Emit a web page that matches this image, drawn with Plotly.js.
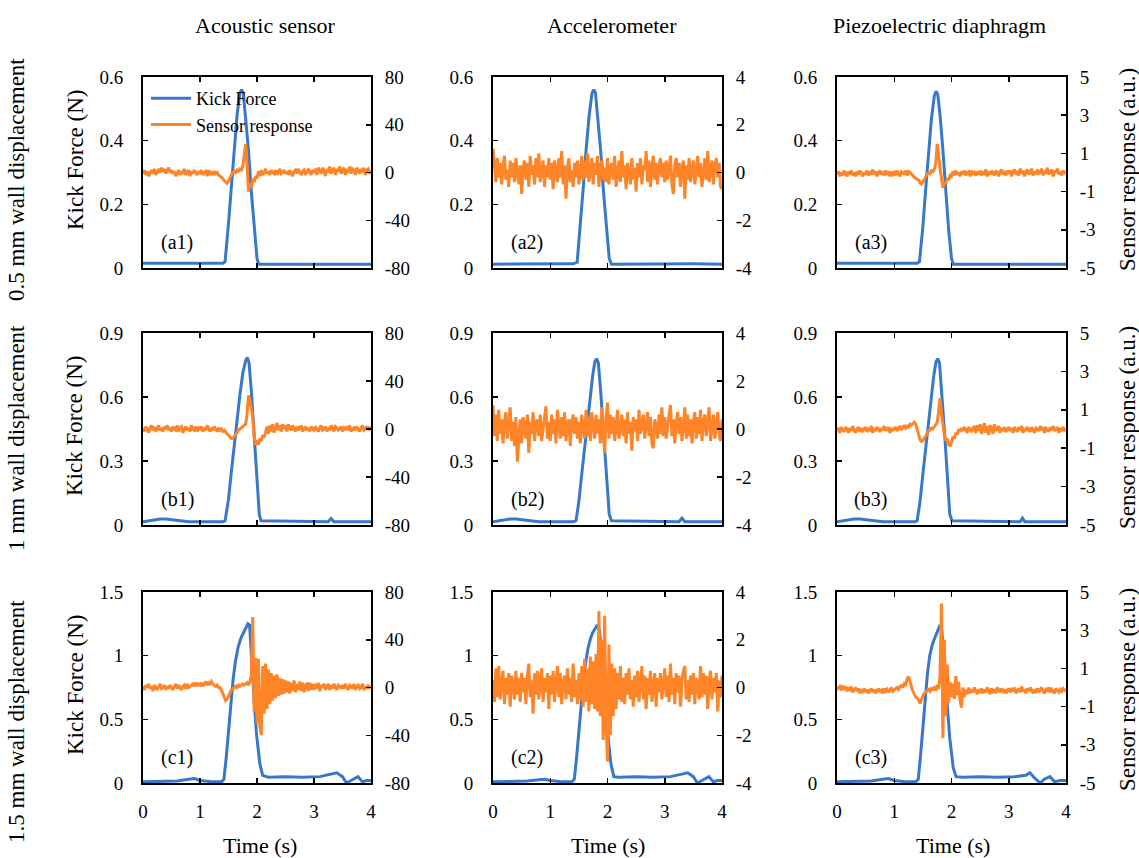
<!DOCTYPE html>
<html><head><meta charset="utf-8">
<script src="https://cdn.plot.ly/plotly-3.0.1.min.js"></script>
<style>html,body{margin:0;padding:0;background:#fff}#chart{width:1139px;height:858px}</style>
</head><body><div id="chart"></div>
<script>
// ---------- text ----------
const columnTitles = ["Acoustic sensor", "Accelerometer", "Piezoelectric diaphragm"];
const rowTitles = ["0.5 mm wall displacement", "1 mm wall displacement", "1.5 mm wall displacement"];
const panelLabels = [["(a1)", "(a2)", "(a3)"], ["(b1)", "(b2)", "(b3)"], ["(c1)", "(c2)", "(c3)"]];
const seriesNames = ["Kick Force", "Sensor response"];
const forceAxisTitle = "Kick Force (N)";
const responseAxisTitle = "Sensor response (a.u.)";
const timeAxisTitle = "Time (s)";

// ---------- ticks ----------
const timeTickVals = [0, 1, 2, 3, 4];
const timeTickText = ["0", "1", "2", "3", "4"];
const forceTickVals = [[0, 0.2, 0.4, 0.6], [0, 0.3, 0.6, 0.9], [0, 0.5, 1, 1.5]];
const forceTickText = [["0", "0.2", "0.4", "0.6"], ["0", "0.3", "0.6", "0.9"], ["0", "0.5", "1", "1.5"]];
const forceMax = [0.6, 0.9, 1.5];
const responseTickVals = [[-80, -40, 0, 40, 80], [-4, -2, 0, 2, 4], [-5, -3, -1, 1, 3, 5]];
const responseTickText = [["-80", "-40", "0", "40", "80"], ["-4", "-2", "0", "2", "4"], ["-5", "-3", "-1", "1", "3", "5"]];
const responseMax = [80, 4, 5];

// ---------- kick force (time s, force N) ----------
const forceTimeA1 = [0,0.5,1,1.4,1.44,1.5,1.55,1.6,1.65,1.7,1.73,1.76,1.8,1.85,1.9,1.95,2,2.03,2.5,3,3.5,4];
const forceA1 = [0.015,0.014,0.015,0.015,0.02,0.14,0.26,0.38,0.48,0.55,0.56,0.55,0.48,0.37,0.24,0.12,0.03,0.012,0.012,0.013,0.012,0.012];
const forceTimeA2 = [0,0.5,1,1.4,1.47,1.53,1.58,1.63,1.68,1.73,1.76,1.79,1.83,1.88,1.93,1.98,2.03,2.07,2.5,3,3.5,4];
const forceA2 = [0.012,0.012,0.013,0.013,0.018,0.14,0.26,0.38,0.48,0.55,0.56,0.55,0.48,0.37,0.24,0.12,0.03,0.012,0.013,0.012,0.013,0.012];
const forceTimeA3 = [0,0.5,1,1.4,1.44,1.5,1.55,1.6,1.65,1.7,1.73,1.76,1.8,1.85,1.9,1.95,2,2.03,2.5,3,3.5,4];
const forceA3 = [0.015,0.015,0.016,0.015,0.02,0.13,0.25,0.37,0.47,0.54,0.555,0.545,0.48,0.37,0.24,0.12,0.03,0.012,0.012,0.013,0.012,0.012];

const forceTimeB1 = [0,0.1,0.2,0.3,0.4,0.5,0.6,0.8,1,1.2,1.4,1.44,1.5,1.55,1.6,1.65,1.7,1.75,1.8,1.83,1.86,1.9,1.95,2,2.04,2.07,2.5,3,3.25,3.3,3.35,3.5,4];
const forceB1 = [0.015,0.02,0.025,0.028,0.028,0.025,0.02,0.015,0.015,0.015,0.015,0.02,0.12,0.25,0.38,0.5,0.61,0.71,0.77,0.785,0.76,0.63,0.43,0.22,0.05,0.02,0.018,0.016,0.015,0.03,0.015,0.015,0.015];
const forceTimeB2 = [0,0.1,0.2,0.3,0.4,0.5,0.6,0.8,1,1.2,1.4,1.45,1.5,1.55,1.6,1.65,1.7,1.74,1.78,1.81,1.84,1.88,1.93,1.98,2.03,2.07,2.5,3,3.25,3.3,3.35,3.5,4];
const forceB2 = [0.015,0.02,0.025,0.028,0.028,0.025,0.02,0.015,0.015,0.015,0.015,0.02,0.11,0.24,0.37,0.49,0.6,0.7,0.765,0.78,0.76,0.63,0.43,0.22,0.05,0.02,0.018,0.016,0.015,0.032,0.015,0.015,0.015];
const forceTimeB3 = [0,0.1,0.2,0.3,0.4,0.5,0.6,0.8,1,1.2,1.36,1.4,1.45,1.5,1.55,1.6,1.65,1.69,1.73,1.76,1.79,1.83,1.88,1.93,1.97,2.01,2.5,3,3.2,3.24,3.28,3.5,4];
const forceB3 = [0.015,0.02,0.025,0.028,0.028,0.025,0.02,0.015,0.015,0.015,0.015,0.02,0.11,0.24,0.37,0.49,0.6,0.7,0.765,0.78,0.76,0.63,0.43,0.22,0.05,0.02,0.018,0.016,0.015,0.032,0.015,0.015,0.015];

const forceTimeC1 = [0,0.3,0.6,0.8,0.9,1,1.2,1.38,1.42,1.46,1.5,1.54,1.58,1.62,1.67,1.72,1.76,1.8,1.84,1.87,1.9,1.95,1.99,2.05,2.1,2.2,2.5,2.8,3.1,3.3,3.4,3.5,3.57,3.65,3.77,3.85,3.92,4];
const forceC1 = [0.01,0.01,0.015,0.03,0.035,0.02,0.01,0.01,0.03,0.2,0.42,0.62,0.81,0.95,1.07,1.14,1.18,1.22,1.25,1.24,1.0,0.65,0.39,0.15,0.06,0.045,0.05,0.045,0.05,0.07,0.08,0.05,0.0,0.02,0.05,0.01,0.02,0.02];
const forceTimeC2 = [0,0.3,0.6,0.8,0.9,1,1.2,1.38,1.42,1.46,1.5,1.54,1.58,1.62,1.66,1.7,1.74,1.78,1.82,1.86,1.9,1.95,2,2.06,2.11,2.2,2.5,2.8,3.1,3.3,3.4,3.5,3.57,3.65,3.77,3.85,3.92,4];
const forceC2 = [0.01,0.01,0.015,0.025,0.03,0.02,0.01,0.01,0.03,0.2,0.42,0.62,0.81,0.95,1.06,1.13,1.18,1.21,1.24,1.2,1.0,0.68,0.4,0.15,0.05,0.045,0.05,0.045,0.05,0.07,0.08,0.05,0.0,0.02,0.05,0.01,0.02,0.02];
const forceTimeC3 = [0,0.3,0.6,0.8,0.9,1,1.2,1.38,1.42,1.46,1.5,1.54,1.58,1.62,1.66,1.7,1.74,1.77,1.8,1.83,1.87,1.92,1.97,2.03,2.08,2.2,2.5,2.8,3.1,3.3,3.37,3.45,3.55,3.62,3.72,3.8,3.9,4];
const forceC3 = [0.01,0.01,0.015,0.03,0.035,0.02,0.01,0.01,0.03,0.22,0.45,0.68,0.86,1.0,1.08,1.13,1.17,1.21,1.24,1.2,1.0,0.65,0.35,0.12,0.05,0.045,0.05,0.045,0.05,0.06,0.08,0.04,0.0,0.03,0.05,0.01,0.02,0.02];

// ---------- sensor response, sampled every 0.025 s from t = 0 ----------
const sampleStart = 0;
const sampleStep = 0.025;
const sensorA1 = [
 -1,2,-2,1,-3,0,2,-1,3,-2,1,3,0,4,1,3,-1,2,4,0,
 2,-1,1,-3,0,2,-2,1,-1,3,-2,0,2,-3,1,-1,2,0,-2,1,
 -1,2,-2,0,1,-3,2,-1,0,-2,1,-1,0,-2,-3,-4,-5,-7,-8,-9,
 -7,-4,-2,0,1,0,2,1,3,2,5,14,24,8,-16,-9,-13,-5,-8,-3,
 -5,1,-3,2,-2,0,3,-1,1,-2,2,0,-1,2,-2,1,3,-1,0,2,
 -1,1,-2,2,0,-3,1,2,-1,3,0,-2,1,2,-1,0,3,1,-2,2,
 0,3,-2,4,1,-1,4,2,-3,3,0,5,-1,2,4,-2,3,1,5,-1,
 2,4,-2,3,0,5,-1,3,2,-2,4,1,-1,3,0,4,-2,2,3,0,
 1];
const sensorA2 = [
 1.0,0.3,-0.4,0.6,-0.2,0.4,-0.5,0.2,0.7,-0.3,0.1,-0.6,0.5,-0.2,0.4,-0.4,0.6,0.0,-0.5,0.3,
 -0.9,0.2,0.5,-0.3,0.4,-0.6,0.7,-0.1,0.3,-0.5,0.6,-0.2,0.8,-0.4,0.1,0.5,-0.6,0.3,-0.2,0.6,
 -0.3,0.4,-0.7,0.5,0.1,-0.4,0.6,-0.2,0.9,-0.5,0.3,-1.1,0.2,0.6,-0.4,0.1,-0.6,0.4,-0.2,0.5,
 -0.5,0.3,0.7,-0.3,0.5,-0.2,0.8,-0.4,0.2,0.6,-0.5,0.4,-0.1,0.7,-0.6,0.3,0.5,-0.3,0.2,-0.4,
 0.6,-0.5,0.2,0.4,-0.3,0.7,-0.6,0.1,0.5,-0.4,0.9,-0.2,0.3,-0.7,0.4,0.0,-0.5,0.6,-0.3,0.2,
 -0.8,0.4,-0.2,0.6,-0.5,0.3,0.1,0.9,-0.4,0.5,-0.6,0.2,0.7,-0.3,0.4,-0.5,0.3,0.6,-0.2,0.4,
 -0.4,0.5,-0.3,0.2,0.7,-0.5,-0.9,0.3,0.6,-0.2,0.4,-0.6,0.2,0.5,-1.1,0.3,-0.3,0.6,-0.4,0.1,
 0.5,-0.5,0.3,0.7,-0.2,0.4,-0.6,0.2,0.6,-0.3,0.9,-0.4,0.1,0.5,-0.5,0.3,0.6,-0.2,0.4,-0.6,
 -0.7];
const sensorA3 = [
 -0.1,0.05,-0.2,0.0,-0.15,0.1,-0.05,-0.2,0.05,-0.1,0.1,-0.15,0.0,-0.2,0.05,-0.1,0.1,-0.05,-0.2,0.0,
 -0.1,0.1,-0.15,0.0,-0.05,0.15,-0.1,0.05,-0.2,0.0,0.1,-0.1,0.05,-0.15,0.1,-0.05,0.0,-0.2,0.05,-0.1,
 0.0,-0.15,0.1,-0.05,-0.2,0.05,0.0,-0.1,0.1,-0.15,0.05,0.0,-0.1,-0.15,-0.25,-0.3,-0.35,-0.4,-0.55,-0.6,
 -0.5,-0.35,-0.2,-0.1,0.0,-0.05,0.1,0.05,0.15,0.5,1.5,0.7,0.2,-0.3,-0.8,-0.5,-0.6,-0.3,-0.4,-0.15,
 -0.2,0.05,-0.15,0.1,-0.1,0.0,-0.2,0.05,-0.1,0.1,-0.15,0.0,0.05,-0.2,0.1,-0.1,0.0,-0.15,0.05,-0.1,
 0.1,-0.15,0.0,-0.05,0.15,-0.2,0.05,-0.1,0.1,-0.05,-0.15,0.1,0.0,-0.2,0.05,0.15,-0.1,0.0,-0.15,0.1,
 -0.05,0.1,-0.2,0.05,0.15,-0.1,0.0,-0.15,0.2,-0.05,0.1,-0.2,0.05,0.15,-0.1,0.0,0.2,-0.15,0.05,-0.1,
 0.15,-0.05,0.0,0.2,-0.15,0.1,-0.05,0.25,-0.1,0.05,0.15,-0.2,0.1,0.0,0.2,-0.1,0.05,-0.15,0.1,0.0,
 -0.05];
const sensorB1 = [
 1,-2,2,0,-3,1,3,-1,2,-2,0,3,-1,1,-2,2,0,3,-1,1,
 -2,2,0,-1,3,-2,1,2,-3,0,2,-1,1,-2,3,0,-1,2,-2,1,
 0,2,-2,1,-1,3,0,-2,1,-1,2,0,-2,1,-1,0,-2,-1,-3,-4,
 -5,-7,-8,-8,-6,-4,-3,-1,0,1,2,3,4,12,28,24,18,10,-6,-13,
 -11,-13,-8,-10,-5,-7,-3,2,-4,3,-2,4,-3,2,5,-1,3,-2,4,0,
 3,-2,4,1,-1,3,0,-2,2,-1,1,3,-2,0,2,-1,1,-2,2,0,
 -1,2,0,-2,1,3,-1,0,2,-2,1,-1,3,0,-2,2,1,-1,0,2,
 -2,1,0,2,-1,3,-2,0,1,-1,2,0,-2,1,3,-1,0,2,-1,1,
 0];
const sensorB2 = [
 1.0,-0.3,0.6,-0.5,0.8,-0.2,0.4,-0.6,0.3,0.7,-0.4,0.2,0.9,-0.5,0.3,-0.7,0.5,-1.36,-0.3,0.4,
 -0.6,0.5,0.1,-0.4,0.6,-1.0,0.3,-0.2,0.7,-0.5,0.2,0.4,-0.3,0.6,-0.5,0.1,0.5,0.95,-0.4,0.3,
 -0.5,0.6,-0.2,0.4,-0.6,0.8,0.0,-0.4,0.5,-0.3,0.7,-0.5,0.2,0.4,-0.7,0.3,0.6,-0.2,0.5,-0.4,
 0.3,-0.6,0.6,0.1,-0.4,0.8,-0.3,0.5,-0.5,0.7,0.2,-0.4,0.6,-0.2,0.4,-0.6,0.9,-0.3,-1.0,0.5,
 1.1,-0.4,0.6,-0.2,0.5,-0.5,0.3,0.8,-0.4,0.2,0.6,-0.3,0.4,-0.6,0.7,-0.2,0.3,-0.9,0.5,-0.1,
 0.4,-0.5,0.8,-0.2,0.3,0.6,-0.4,0.2,0.7,-0.3,0.5,-0.6,-0.8,0.4,0.1,-0.4,0.6,-0.2,0.9,-0.3,
 0.5,-0.4,0.2,0.6,1.0,-0.3,0.4,-0.6,0.3,0.7,-0.2,0.5,-0.5,0.2,0.9,-0.4,0.6,-0.3,0.4,-0.6,
 0.3,0.7,-0.4,0.5,-0.2,0.8,-0.5,0.3,0.6,-0.3,0.4,0.9,-0.5,0.2,0.6,-0.4,0.3,0.7,-0.2,-0.5,
 0.4];
const sensorB3 = [
 -0.1,0.05,-0.2,0.1,-0.05,-0.15,0.1,0.0,-0.2,0.05,-0.1,0.15,-0.05,-0.2,0.0,0.1,-0.15,0.05,-0.1,0.0,
 0.1,-0.15,0.0,-0.05,0.15,-0.2,0.05,-0.1,0.1,0.0,-0.15,0.05,-0.05,0.15,-0.1,0.0,0.1,-0.2,0.05,-0.05,
 0.0,0.1,-0.1,0.05,0.15,-0.05,0.1,0.2,0.05,0.15,0.1,0.25,0.2,0.3,0.35,0.25,0.0,-0.3,-0.55,-0.65,
 -0.6,-0.5,-0.35,-0.25,-0.1,-0.05,0.05,0.0,0.1,0.2,0.35,0.9,1.6,0.8,0.2,-0.3,-0.6,-0.5,-0.8,-0.9,
 -0.7,-0.4,-0.5,-0.2,-0.3,0.0,-0.15,0.05,-0.1,0.1,-0.05,-0.2,0.1,0.0,-0.15,0.05,0.15,-0.2,0.2,-0.1,
 0.25,-0.25,0.1,0.3,-0.2,0.15,-0.3,0.2,0.05,-0.25,0.25,-0.1,0.0,0.15,-0.2,0.05,-0.1,0.1,-0.15,0.0,
 0.1,-0.1,0.05,-0.2,0.1,0.0,-0.15,0.1,-0.05,0.15,-0.2,0.05,-0.1,0.1,0.0,-0.15,0.1,-0.05,-0.2,0.05,
 0.0,-0.1,0.15,-0.05,0.1,-0.2,0.05,0.0,-0.15,0.1,-0.05,0.15,-0.1,0.0,0.1,-0.2,0.05,-0.05,0.1,-0.1,
 0.0];
const sensorC1 = [
 1,-2,2,0,3,-1,1,-3,2,0,-2,1,3,-1,0,2,-2,1,-1,2,
 0,-2,1,3,-1,2,0,-2,1,2,-1,3,0,1,2,3,1,4,2,3,
 2,4,1,3,5,2,4,3,5,3,2,1,2,0,0,-2,-5,-8,-11,-10,
 -7,-4,-2,-1,0,1,0,2,1,2,3,2,3,4,2,5,10,59,-20,25,
 -30,24,-33,-40,18,-22,20,-18,15,-14,12,-11,10,-9,11,-7,8,-6,7,-5,
 6,-4,5,-5,4,-3,6,-4,3,-2,5,-3,4,-4,2,3,-3,4,-2,3,
 -2,3,-1,4,-3,2,0,3,-2,1,3,-2,2,-1,3,0,-2,2,1,-1,
 2,-1,3,0,-2,2,1,-1,3,-2,1,2,-1,0,3,-2,1,-1,2,0,
 1];
const sensorC2 = [
 0.3,-0.6,0.8,-0.4,0.9,-0.5,0.2,0.7,-0.7,0.4,-0.3,0.6,-0.8,0.5,0.1,-0.5,0.7,-0.3,0.4,-0.6,
 0.6,-0.2,0.4,-0.7,0.5,1.0,-0.4,0.3,-1.1,0.6,-0.3,0.7,-0.5,0.2,0.8,-0.6,0.4,-0.2,0.6,-0.9,
 0.5,-0.3,0.7,-0.6,0.3,0.9,-0.4,0.6,-0.7,0.2,0.5,-0.5,0.8,-0.3,0.4,-0.6,1.0,-0.4,0.3,-0.7,
 0.6,-0.5,0.9,-0.8,1.2,-0.6,0.8,-1.0,1.3,-0.7,1.1,-0.9,1.4,-1.0,3.2,-1.2,2.0,-2.2,3.0,-1.5,
 -3.1,1.8,-2.0,1.0,-1.2,0.8,-0.9,0.6,-0.5,0.9,-0.6,0.4,-0.7,0.6,-0.3,0.8,-0.5,0.3,-0.8,0.5,
 -0.4,0.7,-0.6,0.3,0.9,-0.5,0.5,-0.9,0.4,-0.3,0.7,-0.6,0.2,0.6,-0.8,0.4,-0.2,0.6,-0.5,0.3,
 0.8,-0.4,0.5,-0.6,1.0,-0.3,0.4,-0.7,0.6,-0.2,0.5,-0.8,0.3,0.7,0.9,-0.5,0.3,-0.6,0.5,-0.3,
 0.6,-0.7,0.4,0.2,-0.5,0.9,-0.4,0.6,-0.3,0.5,-0.9,0.3,0.7,-0.5,0.4,-0.2,0.6,-1.0,0.3,-0.4,
 0.5];
const sensorC3 = [
 -0.1,0.0,0.05,-0.15,0.1,-0.05,0.05,-0.2,0.0,-0.1,0.05,-0.25,-0.1,0.0,-0.2,-0.05,-0.3,-0.1,-0.2,-0.05,
 -0.25,-0.1,-0.3,-0.15,-0.05,-0.25,-0.1,-0.3,-0.2,-0.05,-0.25,-0.15,-0.3,-0.05,-0.2,-0.1,-0.25,-0.15,0.0,-0.2,
 -0.1,-0.05,0.0,-0.1,0.05,0.1,0.0,0.2,0.15,0.45,0.57,0.3,0.0,-0.2,-0.35,-0.5,-0.55,-0.65,-0.83,-0.6,
 -0.45,-0.3,-0.25,-0.15,-0.1,-0.2,-0.05,-0.1,0.0,-0.15,0.05,0.0,0.6,4.4,-2.66,2.5,-1.5,1.2,-0.8,0.3,
 -0.5,0.2,-0.6,0.6,-0.4,0.3,-0.7,-1.05,0.0,-0.5,-0.1,-0.35,0.0,-0.3,-0.1,-0.25,0.0,-0.2,-0.35,-0.1,
 -0.2,-0.05,-0.3,-0.1,-0.25,0.0,-0.2,-0.35,-0.05,-0.2,-0.1,-0.3,0.0,-0.15,-0.25,-0.05,-0.2,-0.1,-0.3,-0.15,
 -0.05,-0.25,-0.1,-0.2,0.0,-0.3,-0.15,-0.05,-0.25,0.05,-0.2,-0.1,-0.3,-0.05,-0.2,0.0,-0.15,-0.3,-0.1,-0.2,
 -0.05,-0.25,-0.1,0.0,-0.2,-0.3,-0.1,-0.15,0.0,-0.25,-0.1,-0.2,-0.3,-0.05,-0.15,-0.25,-0.1,-0.2,-0.05,-0.15,
 -0.2];

const forceTimes = [[forceTimeA1, forceTimeA2, forceTimeA3], [forceTimeB1, forceTimeB2, forceTimeB3], [forceTimeC1, forceTimeC2, forceTimeC3]];
const forces = [[forceA1, forceA2, forceA3], [forceB1, forceB2, forceB3], [forceC1, forceC2, forceC3]];
const sensors = [[sensorA1, sensorA2, sensorA3], [sensorB1, sensorB2, sensorB3], [sensorC1, sensorC2, sensorC3]];

// ---------- layout geometry (pixels of the 1139x858 page) ----------
const W = 1139, H = 858;
const colPx = [[143, 371], [493, 722], [837, 1066]];
const rowPx = [[77, 268], [333, 525], [592, 783]];
const FONT = "Liberation Serif";
const BLUE = "#3878c8", ORANGE = "#ff8427";

const px2x = p => p / W;
const px2y = p => 1 - p / H;

const layout = {
  width: W, height: H,
  margin: {l: 0, r: 0, t: 0, b: 0},
  paper_bgcolor: "#fff", plot_bgcolor: "rgba(0,0,0,0)",
  font: {family: FONT, size: 19, color: "#000"},
  showlegend: true,
  legend: {x: px2x(146), y: px2y(80), xanchor: "left", yanchor: "top",
           bgcolor: "rgba(0,0,0,0)", font: {family: FONT, size: 18, color: "#000"},
           itemwidth: 40, tracegroupgap: 0},
  annotations: []
};
const traces = [];

function note(text, xp, yp, size, angle) {
  return {text: text, xref: "paper", yref: "paper", x: px2x(xp), y: px2y(yp),
          xanchor: "center", yanchor: "middle", showarrow: false, textangle: angle || 0,
          font: {family: FONT, size: size, color: "#000"}};
}

for (let r = 0; r < 3; r++) {
  for (let c = 0; c < 3; c++) {
    const k = r * 3 + c + 1;
    const kr = k + 9;
    const xn = k === 1 ? "x" : "x" + k;
    const yn = k === 1 ? "y" : "y" + k;
    const y2n = "y" + kr;
    const common = {showgrid: false, zeroline: false, showline: true, linecolor: "#000", linewidth: 2,
                    ticks: "inside", ticklen: 5, tickwidth: 1.5, tickcolor: "#000", fixedrange: true,
                    tickfont: {family: FONT, size: 19, color: "#000"}};
    layout[k === 1 ? "xaxis" : "xaxis" + k] = Object.assign({}, common, {
      domain: [px2x(colPx[c][0]), px2x(colPx[c][1])], anchor: yn, range: [0, 4],
      tickmode: "array", tickvals: timeTickVals, ticktext: timeTickText,
      showticklabels: r === 2, mirror: "ticks", ticklabelstandoff: 10
    });
    layout[k === 1 ? "yaxis" : "yaxis" + k] = Object.assign({}, common, {
      domain: [px2y(rowPx[r][1]), px2y(rowPx[r][0])], anchor: xn, range: [0, forceMax[r]],
      tickmode: "array", tickvals: forceTickVals[r], ticktext: forceTickText[r], ticklabelstandoff: 14
    });
    layout["yaxis" + kr] = Object.assign({}, common, {
      overlaying: yn, side: "right", anchor: xn, range: [-responseMax[c], responseMax[c]],
      tickmode: "array", tickvals: responseTickVals[c], ticktext: responseTickText[c], ticklabelstandoff: 8
    });
    traces.push({type: "scatter", mode: "lines", name: seriesNames[0], legendgroup: "f",
      x: forceTimes[r][c], y: forces[r][c], xaxis: xn, yaxis: yn,
      line: {color: BLUE, width: 3}, showlegend: k === 1, hoverinfo: "skip"});
    traces.push({type: "scatter", mode: "lines", name: seriesNames[1], legendgroup: "s",
      x0: sampleStart, dx: sampleStep, y: sensors[r][c], xaxis: xn, yaxis: y2n,
      line: {color: ORANGE, width: 3}, showlegend: k === 1, hoverinfo: "skip"});
    layout.annotations.push(note(panelLabels[r][c], colPx[c][0] + 34, rowPx[r][1] - 26, 20));
  }
}

const colCenters = [265, 612, 940];
const timeCenters = [260, 608, 953];
for (let c = 0; c < 3; c++) {
  layout.annotations.push(note(columnTitles[c], colCenters[c], 26, 22));
  layout.annotations.push(note(timeAxisTitle, timeCenters[c], 845, 22));
}
const rowTitleCenters = [180, 438, 722];
const forceTitleCenters = [160, 426, 685];
const respTitleCenters = [170, 428, 690];
for (let r = 0; r < 3; r++) {
  layout.annotations.push(note(rowTitles[r], 16, rowTitleCenters[r], 23, -90));
  layout.annotations.push(note(forceAxisTitle, 75, forceTitleCenters[r], 23, -90));
  layout.annotations.push(note(responseAxisTitle, 1127, respTitleCenters[r], 23, -90));
}

Plotly.newPlot("chart", traces, layout, {staticPlot: true, displayModeBar: false});
</script>
</body></html>
